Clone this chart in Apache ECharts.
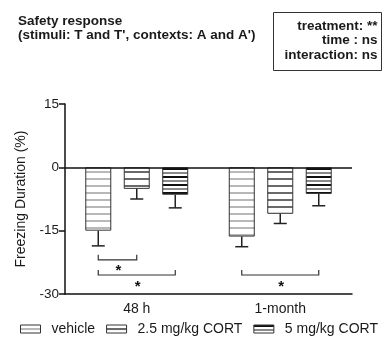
<!DOCTYPE html>
<html>
<head>
<meta charset="utf-8">
<script src="https://cdn.jsdelivr.net/npm/echarts@6/dist/echarts.min.js"></script>
<style>html,body{margin:0;padding:0;background:#fff;}#c{width:383px;height:338px;}</style>
</head>
<body>
<div id="c"></div>
<script>
// ---- data ----
const categories = ['48 h', '1-month'];
const seriesNames = ['vehicle', '2.5 mg/kg CORT', '5 mg/kg CORT'];
const vehicleMean = [-15.0, -16.4];
const vehicleErr = [3.6, 2.4];
const cort25Mean = [-5.1, -11.0];
const cort25Err = [2.4, 2.3];
const cort5Mean = [-6.5, -6.3];
const cort5Err = [3.1, 2.8];
const yMin = -30, yMax = 15, yStep = 15;
// significance brackets
const sigCategory = [0, 0, 1];
const sigFrom = [0, 0, 0];
const sigTo = [1, 2, 2];
const sigLevel = [-21.9, -25.5, -25.5];
const sigLabel = ['*', '*', '*'];
const titleLines = ['Safety response', "(stimuli: T and T', contexts: A and A')"];
const statsLines = ['treatment: **', 'time : ns', 'interaction: ns'];

// ---- styles ----
const FONT = 'Liberation Sans, Arial, sans-serif';
const BAR_W = 26, BAR_STEP = 38.5;
const offsets = [-BAR_STEP, 0, BAR_STEP];

function stripe(h, bands) {
  const c = document.createElement('canvas');
  c.width = 4; c.height = h;
  const g = c.getContext('2d');
  g.fillStyle = '#ffffff'; g.fillRect(0, 0, 4, h);
  bands.forEach(b => { g.fillStyle = b[2]; g.fillRect(0, b[0], 4, b[1]); });
  return { image: c, repeat: 'repeat' };
}
const patterns = [
  stripe(7, [[3, 2, '#b8b8b8']]),
  stripe(7, [[3, 2, '#6a6a6a']]),
  stripe(8, [[0, 2, '#111111'], [4, 2, '#8a8a8a']])
];

const means = [vehicleMean, cort25Mean, cort5Mean];
const errs = [vehicleErr, cort25Err, cort5Err];

const barSeries = seriesNames.map((n, i) => ({
  name: n,
  type: 'bar',
  barWidth: BAR_W,
  barGap: '48%',
  data: means[i],
  itemStyle: { color: patterns[i], borderColor: '#333', borderWidth: 1 },
  emphasis: { disabled: true },
  z: 2,
  markLine: i === 0 ? {
    silent: true, symbol: 'none', label: { show: false },
    lineStyle: { color: '#111', width: 1.5, type: 'solid' },
    data: [{ yAxis: 0 }]
  } : undefined
}));

const errData = [];
means.forEach((m, gi) => m.forEach((v, ci) => errData.push([ci, v, v - errs[gi][ci], gi])));

const errSeries = {
  type: 'custom',
  data: errData,
  z: 3,
  silent: true,
  renderItem: function (params, api) {
    const gi = api.value(3);
    const p1 = api.coord([api.value(0), api.value(1)]);
    const p2 = api.coord([api.value(0), api.value(2)]);
    const x = p1[0] + offsets[gi];
    const st = { stroke: '#222', lineWidth: 1.5 };
    return { type: 'group', children: [
      { type: 'line', shape: { x1: x, y1: p1[1], x2: x, y2: p2[1] }, style: st },
      { type: 'line', shape: { x1: x - 6.5, y1: p2[1], x2: x + 6.5, y2: p2[1] }, style: st }
    ]};
  }
};

const sigData = sigCategory.map((c, k) => [c, sigLevel[k], sigFrom[k], sigTo[k], k]);
const sigSeries = {
  type: 'custom',
  data: sigData,
  z: 3,
  silent: true,
  renderItem: function (params, api) {
    const p = api.coord([api.value(0), api.value(1)]);
    const x1 = p[0] + offsets[api.value(2)];
    const x2 = p[0] + offsets[api.value(3)];
    const y = p[1];
    return { type: 'group', children: [
      { type: 'polyline', shape: { points: [[x1, y - 5], [x1, y], [x2, y], [x2, y - 5]] },
        style: { stroke: '#333', lineWidth: 1.2, fill: null } },
      { type: 'text', style: { text: sigLabel[api.value(4)], x: (x1 + x2) / 2 + 1, y: y + 4,
        align: 'center', verticalAlign: 'top', font: 'bold 15px ' + FONT, fill: '#111' } }
    ]};
  }
};

const chart = echarts.init(document.getElementById('c'), null, { renderer: 'canvas' });
chart.setOption({
  animation: false,
  backgroundColor: '#ffffff',
  textStyle: { fontFamily: FONT },
  title: {
    text: titleLines.join('\n'),
    left: 13, top: 9,
    textStyle: { fontSize: 13.5, fontWeight: 'bold', color: '#1a1a1a', lineHeight: 14, fontFamily: FONT }
  },
  graphic: [{
    type: 'group',
    children: [
      { type: 'rect', shape: { x: 273.5, y: 12.5, width: 108, height: 58 },
        style: { fill: '#fff', stroke: '#333', lineWidth: 1 } },
      { type: 'text', style: { text: statsLines.join('\n'), x: 377.5, y: 19, align: 'right',
        verticalAlign: 'top', font: 'bold 13.5px ' + FONT, lineHeight: 14.5, fill: '#1a1a1a' } }
    ]
  }],
  grid: { left: 65, right: 31, top: 104, bottom: 44 },
  legend: {
    data: seriesNames,
    left: 20, top: 322, width: 363,
    padding: 0,
    itemWidth: 20, itemHeight: 8, itemGap: 11,
    icon: 'rect',
    selectedMode: false,
    textStyle: { fontSize: 14, color: '#1a1a1a', padding: [0, 0, 0, 6], fontFamily: FONT },
    itemStyle: { borderColor: '#333', borderWidth: 1 }
  },
  xAxis: {
    type: 'category',
    data: categories,
    axisLine: { onZero: false, lineStyle: { color: '#111', width: 1.5 } },
    axisTick: { alignWithLabel: true, length: 5, lineStyle: { color: '#111', width: 1.5 } },
    axisLabel: { fontSize: 14, color: '#1a1a1a', margin: 8 },
    splitLine: { show: false }
  },
  yAxis: {
    type: 'value',
    min: yMin, max: yMax, interval: yStep,
    name: 'Freezing Duration (%)',
    nameLocation: 'middle',
    nameGap: 28,
    nameTextStyle: { fontSize: 14, color: '#1a1a1a' },
    axisLine: { show: true, lineStyle: { color: '#111', width: 1.5 } },
    axisTick: { show: true, length: 6, lineStyle: { color: '#111', width: 1.5 } },
    axisLabel: { fontSize: 13.5, color: '#1a1a1a', margin: 6 },
    splitLine: { show: false }
  },
  series: barSeries.concat([errSeries, sigSeries])
});
</script>
</body>
</html>
